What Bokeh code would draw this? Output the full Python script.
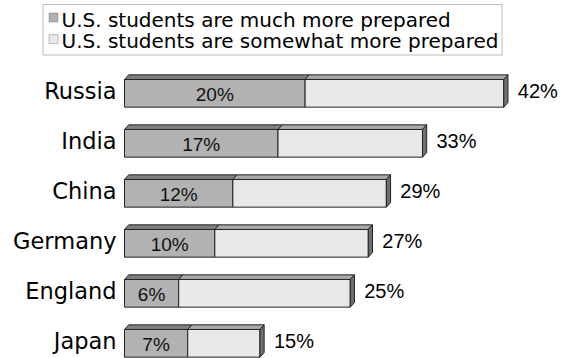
from bokeh.plotting import figure
from bokeh.models import Range1d, ColumnDataSource, BoxAnnotation, Label
from bokeh.core.properties import value
from bokeh.embed import file_html
from bokeh.resources import INLINE

# Survey data: share who say U.S. students are more prepared than students in ...
countries = ["Russia", "India", "China", "Germany", "England", "Japan"]
much_more = [20, 17, 12, 10, 6, 7]
somewhat_more = [22, 16, 17, 17, 19, 8]
series_names = ["U.S. students are much more prepared",
                "U.S. students are somewhat more prepared"]

W, H = 561, 358
PX_PER_UNIT = 9.03          # horizontal pixels per percentage point
ORIGIN_PX = 124             # pixel column of the 0% baseline
ROW_PX = 50                 # vertical pixels per country row
FIRST_ROW_PX = 92.8         # pixel row of the first bar's centre

C_MUCH, C_SOME = "#b2b2b2", "#e8e8e8"
C_MUCH_TOP, C_SOME_TOP, C_SIDE = "#808080", "#a9a9a9", "#6f6f6f"
EDGE = "#222222"
WORD_FONT = "DejaVu Sans"
NUM_FONT = "Liberation Sans"

p = figure(width=W, height=H, output_backend="svg", toolbar_location=None,
           x_range=Range1d(-ORIGIN_PX / PX_PER_UNIT, (W - ORIGIN_PX) / PX_PER_UNIT),
           y_range=Range1d((H - FIRST_ROW_PX) / ROW_PX, -FIRST_ROW_PX / ROW_PX),
           min_border=0, x_axis_location=None, y_axis_location=None)
p.outline_line_color = None
p.xgrid.visible = False
p.ygrid.visible = False
p.background_fill_color = "white"

bar_h = 27.7 / ROW_PX       # front face height in row units
dx = 4.2 / PX_PER_UNIT      # 3-D depth, horizontal
dy = 4.6 / ROW_PX           # 3-D depth, vertical

ys = list(range(len(countries)))
totals = [a + b for a, b in zip(much_more, somewhat_more)]
tops = [y - bar_h / 2 for y in ys]
bottoms = [y + bar_h / 2 for y in ys]

src = ColumnDataSource(dict(
    y=ys, top=tops, bottom=bottoms, zero=[0] * len(ys),
    much=much_more, total=totals,
    much_mid=[m / 2 for m in much_more],
    country=countries,
    much_lbl=[f"{m}%" for m in much_more],
    total_lbl=[f"{t}%" for t in totals],
))

# front faces
p.quad(left="zero", right="much", top="top", bottom="bottom", source=src,
       fill_color=C_MUCH, line_color=EDGE, line_width=1)
p.quad(left="much", right="total", top="top", bottom="bottom", source=src,
       fill_color=C_SOME, line_color=EDGE, line_width=1)

# top faces of each segment and the right-hand side face
def top_face(l, r, t):
    return [l, l + dx, r + dx, r], [t, t - dy, t - dy, t]

xs_m, ys_m, xs_s, ys_s, xs_r, ys_r = [], [], [], [], [], []
for m, tot, t, b in zip(much_more, totals, tops, bottoms):
    a, c = top_face(0, m, t)
    xs_m.append(a); ys_m.append(c)
    a, c = top_face(m, tot, t)
    xs_s.append(a); ys_s.append(c)
    xs_r.append([tot, tot + dx, tot + dx, tot])
    ys_r.append([t, t - dy, b - dy, b])

p.patches(xs_m, ys_m, fill_color=C_MUCH_TOP, line_color=EDGE, line_width=1)
p.patches(xs_s, ys_s, fill_color=C_SOME_TOP, line_color=EDGE, line_width=1)
p.patches(xs_r, ys_r, fill_color=C_SIDE, line_color=EDGE, line_width=1)

# country names, segment values and totals
p.text(x="zero", y="y", text="country", source=src, x_offset=-8, y_offset=-2,
       text_align="right", text_baseline="middle",
       text_font=value(WORD_FONT), text_font_size="22.5px", text_color="black")
p.text(x="much_mid", y="y", text="much_lbl", source=src, y_offset=1,
       text_align="center", text_baseline="middle",
       text_font=value(NUM_FONT), text_font_size="19px", text_color="#111111")
p.text(x="total", y="y", text="total_lbl", source=src, x_offset=14, y_offset=-2,
       text_align="left", text_baseline="middle",
       text_font=value(NUM_FONT), text_font_size="20px", text_color="black")

# legend box
p.add_layout(BoxAnnotation(left=42.5, right=501.5, top=H - 4, bottom=H - 54.5,
                           left_units="screen", right_units="screen",
                           top_units="screen", bottom_units="screen",
                           fill_color="white", fill_alpha=1,
                           line_color=EDGE, line_width=1))
for i, (name, col) in enumerate(zip(series_names, [C_MUCH, C_SOME])):
    cy = 17 + i * 21.6
    p.add_layout(BoxAnnotation(left=48.5, right=57.5, top=H - cy + 4.5, bottom=H - cy - 4.5,
                               left_units="screen", right_units="screen",
                               top_units="screen", bottom_units="screen",
                               fill_color=col, fill_alpha=1,
                               line_color="#444444", line_width=1))
    p.add_layout(Label(x=61, y=H - cy - 2, x_units="screen", y_units="screen",
                       text=name, text_baseline="middle",
                       text_font=WORD_FONT, text_font_size="20px", text_color="black"))

open("out.html", "w").write(file_html(p, INLINE))
